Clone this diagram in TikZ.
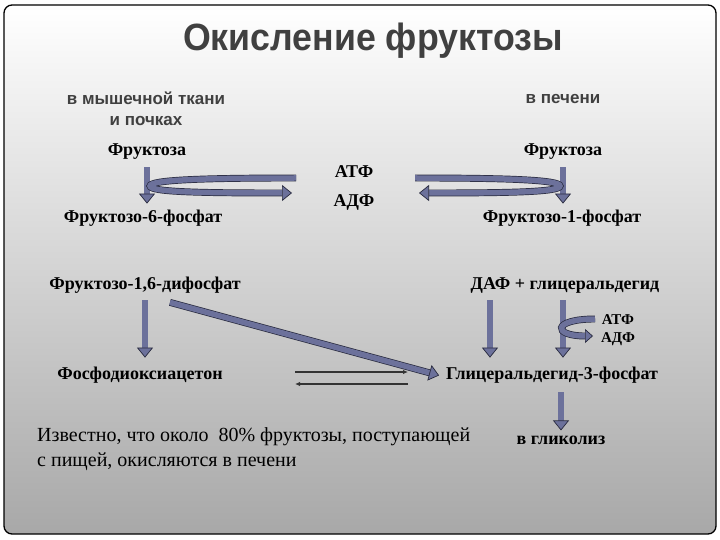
\documentclass[tikz,border=0pt]{standalone}
\usepackage{fontspec}
\setmainfont{Liberation Serif}
\setsansfont{Liberation Sans}
\usetikzlibrary{arrows.meta}
\definecolor{slate}{RGB}{108,113,155}
\definecolor{slateedge}{RGB}{40,42,62}
\definecolor{headgray}{RGB}{64,64,64}
\definecolor{bgmid}{RGB}{222,222,222}
\definecolor{bgbot}{RGB}{168,168,168}

\begin{document}
\begin{tikzpicture}[x=1pt,y=-1pt]

		\tikzset{lbl/.style = {font=\fontsize{18}{20}\selectfont\bfseries, inner sep=1pt}}
		\tikzset{small/.style = {font=\fontsize{15}{17}\selectfont\bfseries, inner sep=1pt}}
		\tikzset{head/.style = {font=\fontsize{17}{21}\selectfont\sffamily\bfseries, text=headgray, align=center}}
		\tikzset{fat/.style = {draw=slateedge, line width=0.7pt, double=slate, double distance=5.5pt,
				-{Triangle[length=10pt,width=16pt,fill=slate]}}}
		\tikzset{thin/.style = {draw=black!80, line width=1.4pt, -{Latex[length=5pt,width=4.5pt]}}}
		% slide
		\useasboundingbox (0,0) rectangle (720,540);
		\shade[top color=white, middle color=bgmid, bottom color=bgbot, rounded corners=8pt] (4,5) rectangle (716,534);
		\draw[line width=1.3pt, rounded corners=8pt] (4,5) rectangle (716,534);
		% headings
		\node[font=\fontsize{38}{42}\selectfont\sffamily\bfseries, text=headgray, xscale=0.94] (title) at (373,41) {Окисление фруктозы};
		\node[head] (muscle) at (146,109) {в мышечной ткани\\и почках};
		\node[head] (liver) at (563,99) {в печени};
		% vertices
		\node[lbl] (fru1) at (147,152) {Фруктоза};
		\node[lbl] (fru2) at (563,152) {Фруктоза};
		\node[lbl] (atp) at (354,172) {АТФ};
		\node[lbl] (adp) at (354,202) {АДФ};
		\node[lbl] (f6p) at (143,218) {Фруктозо-6-фосфат};
		\node[lbl] (f1p) at (562,218) {Фруктозо-1-фосфат};
		\node[lbl] (f16) at (145,285) {Фруктозо-1,6-дифосфат};
		\node[lbl] (daf) at (565,285) {ДАФ + глицеральдегид};
		\node[lbl] (pda) at (140,375) {Фосфодиоксиацетон};
		\node[lbl] (g3p) at (552,375) {Глицеральдегид-3-фосфат};
		\node[lbl] (glyc) at (561,440) {в гликолиз};
		\node[small] (atp2) at (618,320) {АТФ};
		\node[small] (adp2) at (618,339) {АДФ};
		\node[font=\fontsize{20}{25}\selectfont, align=left, anchor=west, inner sep=0pt] (note) at (37,449)
			{Известно, что около\ \ 80\% фруктозы, поступающей\\с пищей, окисляются в печени};
		% free ends
		\coordinate (dafdown) at ([xshift=-75pt]daf.south);
		\coordinate (glidown) at ([xshift=-2pt]daf.south);
		\coordinate (eqL) at (295,378);
		\coordinate (eqR) at (408,378);
		\coordinate (loopA) at (296,178);
		\coordinate (loopB) at (150,186);
		\coordinate (loopC) at (292,193);
		\coordinate (loopD) at (415,178);
		\coordinate (loopE) at (560,186);
		\coordinate (loopF) at (419,193);
		\coordinate (turnA) at (595,319);
		\coordinate (turnB) at (593,336);
		%edges
		\draw[fat, shorten <=6pt, shorten >=5pt] (fru1.south) -- (fru1.south |- f6p.north);
		\draw[fat, shorten <=6pt, shorten >=5pt] (fru2.south) -- (fru2.south |- f1p.north);
		\draw[fat, shorten <=6pt, shorten >=8pt] (f16.south) -- (f16.south |- pda.north);
		\draw[fat, shorten >=6pt] ([xshift=25pt,yshift=-8pt]f16.south) -- ([yshift=-2pt]g3p.west);
		\draw[fat, shorten <=6pt, shorten >=8pt] (dafdown) -- (dafdown |- g3p.north);
		\draw[fat, shorten <=6pt, shorten >=8pt] (glidown) -- (glidown |- g3p.north);
		\draw[fat, shorten <=8pt, shorten >=4pt] (glyc.north |- g3p.south) -- (glyc.north);
		\draw[thin] ([yshift=6pt]eqL) -- ([yshift=6pt]eqR);
		\draw[thin] ([yshift=-6pt]eqR) -- ([yshift=-6pt]eqL);
		% loops for ATP -> ADP
		\draw[fat] (loopA) .. controls (200,178) and (150,180) .. (loopB)
			.. controls (150,192) and (200,193) .. (loopC);
		\draw[fat] (loopD) .. controls (510,178) and (560,180) .. (loopE)
			.. controls (560,192) and (510,193) .. (loopF);
		\draw[fat, -{Triangle[length=8pt,width=14pt,fill=slate]}] (turnA) .. controls (552,319) and (552,336) .. (turnB);
\end{tikzpicture}
\end{document}
